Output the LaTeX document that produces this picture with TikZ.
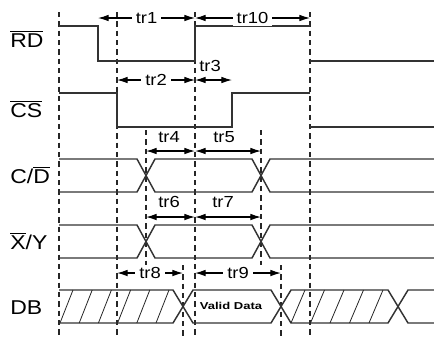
\documentclass[tikz,border=0pt]{standalone}
\usepackage{fontspec}
\usepackage{graphicx}
\setmainfont{Liberation Sans}
\newfontfamily\widefont{Liberation Sans}[FakeStretch=1.15]
\usetikzlibrary{arrows.meta}

\tikzset{
  sig/.style={line width=1.1pt, black!80},
  guide/.style={line width=0.9pt, black!85, dash pattern=on 4pt off 3pt},
  hatch/.style={line width=0.6pt, black!85},
  dim/.style={line width=0.9pt, <->},
  siglabel/.style={font=\widefont\fontsize{15}{15}\selectfont, inner sep=0pt, anchor=base west},
  timelabel/.style={font=\widefont\fontsize{12}{12}\selectfont, inner xsep=3pt, inner ysep=1.5pt, fill=white},
}

\begin{document}
\begin{tikzpicture}[x=0.75pt, y=-0.75pt, >={Latex[length=8pt,width=5pt]}]
\useasboundingbox (0,0) rectangle (434,337);

% guide lines
\foreach \x in {59,117,195,310}
{
    \draw[guide] (\x,12)--(\x,337);
}
\foreach \x in {146,261}
{
    \draw[guide] (\x,130)--(\x,265);
}
\foreach \x in {183,281}
{
    \draw[guide] (\x,265)--(\x,337);
}

% signal names
\node[siglabel] (rd) at (10,47) {$\overline{\hbox{RD}}$};
\node[siglabel] (cs) at (10,117) {$\overline{\hbox{CS}}$};
\node[siglabel] (cd) at (10,183) {C/$\overline{\hbox{D}}$};
\node[siglabel] (xy) at (10,249) {$\overline{\hbox{X}}$/Y};
\node[siglabel] (db) at (10,314) {DB};

% RD and CS
\draw[sig] (59,26)--(98,26)--(98,61)--(195,61)--(195,26)--(310,26);
\draw[sig] (310,61)--(434,61);
\draw[sig] (59,93)--(117,93)--(117,127)--(232,127)--(232,93)--(310,93);
\draw[sig] (310,127)--(434,127);

% C/D and X/Y
\foreach \y in {159,225}
{
    \draw[sig] (59,\y)--(137,\y)--(155,\y+33)--(252,\y+33)--(270,\y)--(434,\y);
    \draw[sig] (59,\y+33)--(137,\y+33)--(155,\y)--(252,\y)--(270,\y+33)--(434,\y+33);
}

% DB
\draw[sig] (59,290)--(173,290)--(193,323)--(271,323)--(291,290)--(388,290)--(408,323)--(434,323);
\draw[sig] (59,323)--(173,323)--(193,290)--(271,290)--(291,323)--(388,323)--(408,290)--(434,290);
\foreach \x in {60,79.2,...,157}
{
    \draw[hatch] (\x,323)--(\x+13,290);
}
\foreach \x in {291,310.5,...,371}
{
    \draw[hatch] (\x,323)--(\x+14,290);
}
\node (valid) at (231,306) {\scalebox{1.3}[1]{\fontsize{7.5}{7.5}\selectfont\bfseries Valid Data}};

% timings
\draw[dim] (98,18) -- node[timelabel] (tr1) {tr1} (195,18);
\draw[dim] (195,18) -- node[timelabel] (tr10) {tr10} (310,18);
\draw[dim] (117,80) -- node[timelabel] (tr2) {tr2} (195,80);
\draw[dim] (195,80) -- (232,80);
\node[timelabel, fill=none] (tr3) at (210,66) {tr3};
\draw[dim] (146,151) -- (195,151);
\draw[dim] (195,151) -- (261,151);
\node[timelabel, fill=none] (tr4) at (169,137) {tr4};
\node[timelabel, fill=none] (tr5) at (224,137) {tr5};
\draw[dim] (146,217) -- (195,217);
\draw[dim] (195,217) -- (261,217);
\node[timelabel, fill=none] (tr6) at (169,202) {tr6};
\node[timelabel, fill=none] (tr7) at (223,202) {tr7};
\draw[dim] (117,273) -- node[timelabel] (tr8) {tr8} (183,273);
\draw[dim] (195,273) -- node[timelabel] (tr9) {tr9} (281,273);

\end{tikzpicture}
\end{document}
